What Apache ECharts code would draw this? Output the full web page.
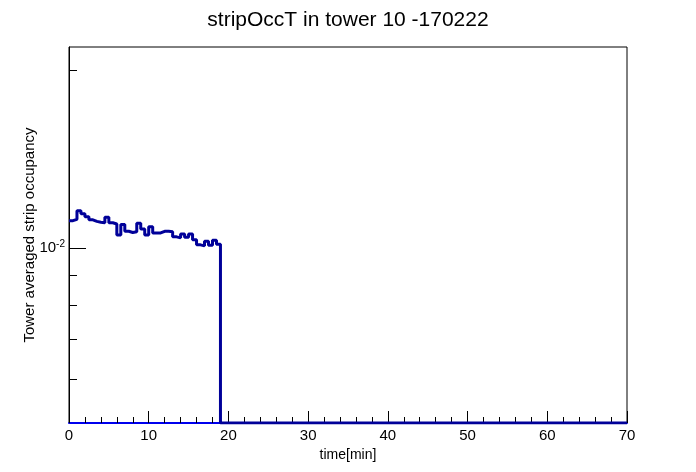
<!DOCTYPE html>
<html>
<head>
<meta charset="utf-8">
<title>stripOccT in tower 10 -170222</title>
<script src="https://cdn.jsdelivr.net/npm/echarts@6/dist/echarts.min.js"></script>
<style>
  html, body { margin: 0; padding: 0; background: #fff; }
  #main { width: 696px; height: 472px; }
</style>
</head>
<body>
<div id="main"></div>
<script>
  // histogram: 0.5 min bins from 0 to 70 min, filled up to 19 min
  var binWidth = 0.5;
  var xMin = 0, xMax = 70;
  var occupancy = [
    0.01112, 0.01118, 0.01156, 0.01142, 0.01129, 0.01116, 0.01109, 0.01105,
    0.01103, 0.01127, 0.01103, 0.01098, 0.01052, 0.01096, 0.01067, 0.01062,
    0.01065, 0.01101, 0.01077, 0.01052, 0.01086, 0.01060, 0.01060, 0.01067,
    0.01067, 0.01065, 0.01044, 0.01040, 0.01056, 0.01042, 0.01056, 0.01032,
    0.01012, 0.01008, 0.01026, 0.01010, 0.01030, 0.01014
  ];
  var yMin = 0.00505, yMax = 0.0219;
  var majorYTicks = [0.01];
  var minorYTicks = [0.006, 0.007, 0.008, 0.009, 0.02];

  var myChart = echarts.init(document.getElementById('main'));

  // empty bins are 0 -> sit on the bottom of the log axis like ROOT does
  var nBins = Math.round((xMax - xMin) / binWidth);
  var pts = [];
  for (var i = 0; i < nBins; i++) {
    var v = i < occupancy.length ? occupancy[i] : 0;
    pts.push([xMin + i * binWidth, Math.max(v, yMin)]);
  }
  pts.push([xMax, pts[pts.length - 1][1]]);

  var font = 'Liberation Sans, Arial, sans-serif';

  var option = {
    backgroundColor: '#fff',
    animation: false,
    title: {
      text: 'stripOccT in tower 10 -170222',
      left: 'center',
      top: 5,
      textStyle: { fontFamily: font, fontSize: 21, fontWeight: 'normal', color: '#000' }
    },
    grid: {
      left: 69, right: 69, top: 47, bottom: 49,
      show: true, borderColor: '#000', borderWidth: 1, backgroundColor: '#fff'
    },
    xAxis: {
      type: 'value',
      min: xMin, max: xMax, interval: 10,
      name: 'time[min]',
      nameLocation: 'middle',
      nameGap: 18,
      nameTextStyle: { fontFamily: font, fontSize: 14, color: '#000' },
      axisLine: { onZero: false, lineStyle: { color: '#0000ee', width: 2 } },
      axisTick: { inside: true, length: 12, lineStyle: { color: '#000' } },
      minorTick: { show: true, splitNumber: 5, length: 6, lineStyle: { color: '#000' } },
      axisLabel: { margin: 5, fontFamily: font, fontSize: 15, color: '#000' },
      splitLine: { show: false }
    },
    yAxis: [
      {
        type: 'log',
        logBase: 10,
        min: yMin, max: yMax,
        position: 'left',
        name: 'Tower averaged strip occupancy',
        nameLocation: 'middle',
        nameGap: 32,
        nameMoveOverlap: false,
        nameTextStyle: { fontFamily: font, fontSize: 15, color: '#000' },
        axisLine: { show: true, lineStyle: { color: '#000', width: 1 } },
        axisTick: { inside: true, length: 17, customValues: majorYTicks, lineStyle: { color: '#000' } },
        axisLabel: {
          margin: 4,
          customValues: majorYTicks,
          formatter: function (val) {
            var e = Math.round(Math.log(val) / Math.LN10);
            return '{b|10}{s|' + e + '}';
          },
          rich: {
            b: { fontFamily: font, fontSize: 15, color: '#000' },
            s: { fontFamily: font, fontSize: 10, color: '#000', verticalAlign: 'top', padding: [0, 0, 8, 0] }
          }
        },
        splitLine: { show: false }
      },
      {
        type: 'log',
        logBase: 10,
        min: yMin, max: yMax,
        position: 'left',
        offset: 0,
        axisLine: { show: false },
        axisTick: { inside: true, length: 8, customValues: minorYTicks, lineStyle: { color: '#000' } },
        axisLabel: { show: false },
        splitLine: { show: false }
      }
    ],
    series: [
      {
        name: 'stripOccT',
        type: 'line',
        step: 'end',
        yAxisIndex: 0,
        data: pts,
        showSymbol: false,
        symbol: 'none',
        lineStyle: { color: '#000099', width: 3 },
        z: 5
      }
    ]
  };
  myChart.setOption(option);
</script>
</body>
</html>
